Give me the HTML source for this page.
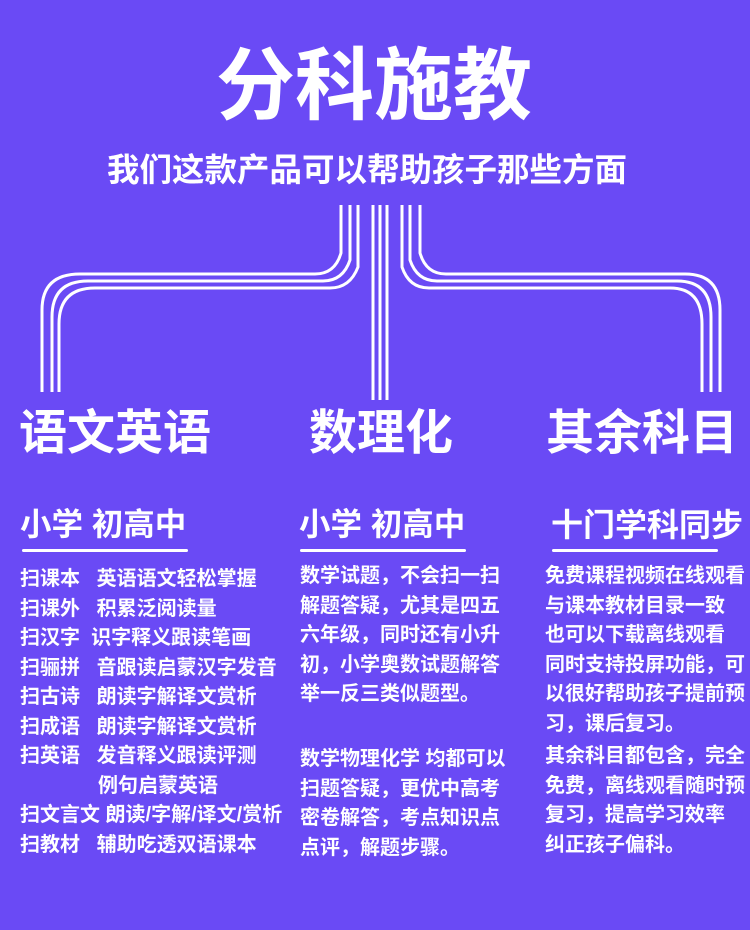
<!DOCTYPE html>
<html><head><meta charset="utf-8"><style>
body{margin:0;width:750px;height:930px;background:#6a4af5;position:relative;overflow:hidden;font-family:"Liberation Sans","Noto Sans CJK SC",sans-serif;color:#fff;font-weight:bold}
.t{position:absolute;white-space:nowrap;line-height:1}
.b{position:absolute;font-size:20px;line-height:29.5px;white-space:nowrap}
.u{position:absolute;height:3px;background:#fff;border-radius:2px}
</style></head><body>
<svg width="750" height="930" style="position:absolute;left:0;top:0" fill="none" stroke="#fff" stroke-width="3">
<path d="M373 205V400M380 205V400M387 205V400"/>
<path d="M341 205V253Q335 274 315 274H80Q42 274 42 310V392"/>
<path d="M350 205V260Q343 281 323 281H88Q52 281 52 317V392"/>
<path d="M358 205V267Q350 288 330 288H95Q59 288 59 324V392"/>
<path d="M420 205V253Q426 274 446 274H685Q720 274 720 310V392"/>
<path d="M410 205V260Q417 281 437 281H677Q711 281 711 317V392"/>
<path d="M402 205V267Q409 288 429 288H670Q702 288 702 324V392"/>
</svg>
<div class="t" style="left:216px;top:46px;font-size:79px">分科施教</div>
<div class="t" style="left:107px;top:154px;font-size:32.5px">我们这款产品可以帮助孩子那些方面</div>
<div class="t" style="left:19px;top:410px;font-size:48px">语文英语</div>
<div class="t" style="left:309px;top:410px;font-size:48px">数理化</div>
<div class="t" style="left:546px;top:410px;font-size:48px">其余科目</div>
<div class="t" style="left:20px;top:509px;font-size:31.5px">小学 初高中</div>
<div class="t" style="left:299px;top:509px;font-size:31.5px">小学 初高中</div>
<div class="t" style="left:551px;top:509px;font-size:32px">十门学科同步</div>
<div class="u" style="left:22px;top:549px;width:166px"></div>
<div class="u" style="left:300px;top:549px;width:166px"></div>
<div class="u" style="left:552px;top:549px;width:166px"></div>
<div class="b" style="left:20px;top:565px">扫课本&nbsp;&nbsp;&nbsp;英语语文轻松掌握<br>扫课外&nbsp;&nbsp;&nbsp;积累泛阅读量<br>扫汉字&nbsp;&nbsp;识字释义跟读笔画<br>扫骊拼&nbsp;&nbsp;&nbsp;音跟读启蒙汉字发音<br>扫古诗&nbsp;&nbsp;&nbsp;朗读字解译文赏析<br>扫成语&nbsp;&nbsp;&nbsp;朗读字解译文赏析<br>扫英语&nbsp;&nbsp;&nbsp;发音释义跟读评测<br><span style="padding-left:78px">例句启蒙英语</span><br>扫文言文 朗读/字解/译文/赏析<br>扫教材&nbsp;&nbsp;&nbsp;辅助吃透双语课本</div>
<div class="b" style="left:300px;top:562px">数学试题，不会扫一扫<br>解题答疑，尤其是四五<br>六年级，同时还有小升<br>初，小学奥数试题解答<br>举一反三类似题型。</div>
<div class="b" style="left:300px;top:745px">数学物理化学 均都可以<br>扫题答疑，更优中高考<br>密卷解答，考点知识点<br>点评，解题步骤。</div>
<div class="b" style="left:545px;top:562px">免费课程视频在线观看<br>与课本教材目录一致<br>也可以下载离线观看<br>同时支持投屏功能，可<br>以很好帮助孩子提前预<br>习，课后复习。</div>
<div class="b" style="left:545px;top:742px">其余科目都包含，完全<br>免费，离线观看随时预<br>复习，提高学习效率<br>纠正孩子偏科。</div>
</body></html>
